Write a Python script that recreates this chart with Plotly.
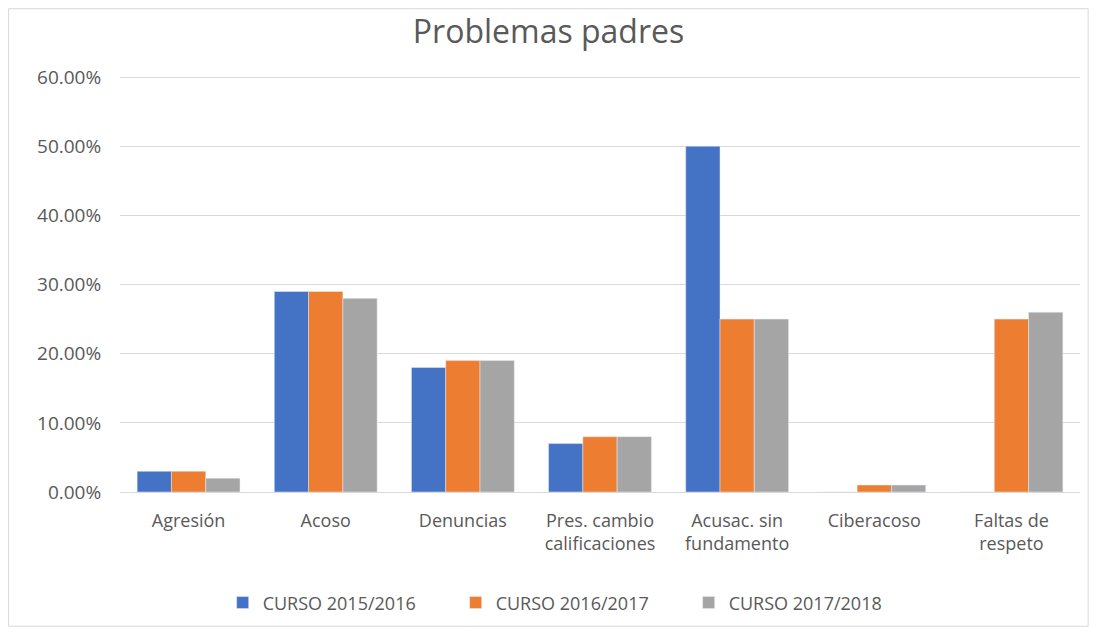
import plotly.graph_objects as go

categories = ['Agresión', 'Acoso', 'Denuncias', 'Pres. cambio<br>calificaciones',
              'Acusac. sin<br>fundamento', 'Ciberacoso', 'Faltas de<br>respeto']
curso_2015_2016 = [0.03, 0.29, 0.18, 0.07, 0.50, 0.0, 0.0]
curso_2016_2017 = [0.03, 0.29, 0.19, 0.08, 0.25, 0.01, 0.25]
curso_2017_2018 = [0.02, 0.28, 0.19, 0.08, 0.25, 0.01, 0.26]
y_ticks = [0, 0.1, 0.2, 0.3, 0.4, 0.5, 0.6]

font = 'Open Sans'
grey_text = '#595959'

fig = go.Figure()
fig.add_bar(x=categories, y=curso_2015_2016, name='CURSO 2015/2016', marker_color='#4472C4')
fig.add_bar(x=categories, y=curso_2016_2017, name='CURSO 2016/2017', marker_color='#ED7D31')
fig.add_bar(x=categories, y=curso_2017_2018, name='CURSO 2017/2018', marker_color='#A5A5A5')

# the page body has an 8px margin, so the figure is a bit smaller than the window
fig.update_layout(
    width=1081, height=619,
    margin=dict(l=112, r=9, t=67, b=135),
    paper_bgcolor='white', plot_bgcolor='white',
    font=dict(family=font, size=17, color=grey_text),
    title=dict(text='Problemas padres', x=0.5, xanchor='center', y=0.961, yanchor='middle',
               font=dict(family=font, size=32, color=grey_text)),
    barmode='group', bargap=0.25, bargroupgap=0,
    legend=dict(orientation='h', x=0.471, xanchor='center', yref='container', y=0.039,
                yanchor='middle', font=dict(size=18, color=grey_text), itemwidth=30,
                entrywidth=188),
    showlegend=True,
)
# top of range a hair above 60% so its gridline is not clipped at the edge
fig.update_yaxes(range=[0, 0.603], tickvals=y_ticks, tickformat='.2%',
                 tickfont=dict(size=19, color=grey_text),
                 showgrid=True, gridcolor='#D9D9D9', gridwidth=1,
                 zeroline=False, showline=False, ticks='outside', ticklen=14,
                 tickcolor='rgba(0,0,0,0)')
fig.update_xaxes(showline=True, linecolor='#D9D9D9', linewidth=1,
                 ticks='outside', ticklen=12, tickcolor='rgba(0,0,0,0)',
                 tickfont=dict(size=18, color=grey_text))

# faint chart border as in the original spreadsheet chart
fig.add_shape(type='rect', xref='paper', yref='paper',
              x0=-0.116, x1=1.0085, y0=-0.322, y1=1.159,
              line=dict(color='#D9D9D9', width=1), layer='below')

fig.write_html('out.html')
